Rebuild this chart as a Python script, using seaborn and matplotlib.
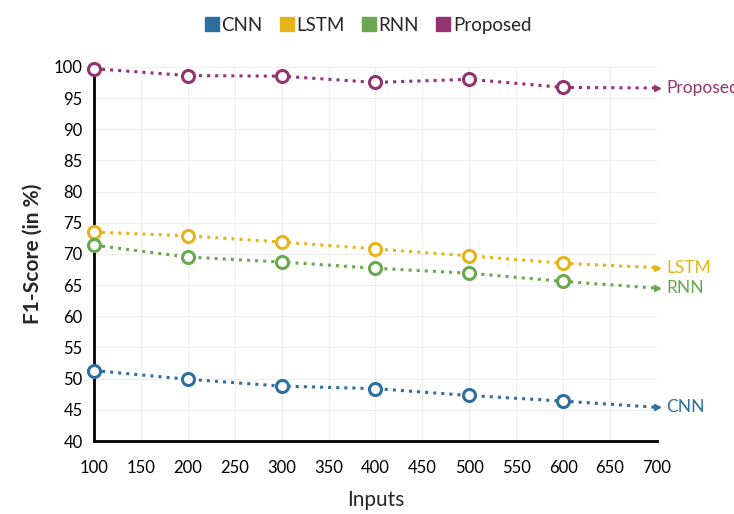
import matplotlib
matplotlib.use("Agg")
import matplotlib.pyplot as plt
from matplotlib.lines import Line2D
import pandas as pd
import seaborn as sns

# values
inputs = [100, 200, 300, 400, 500, 600, 700]
cnn = [51.3, 49.9, 48.8, 48.4, 47.3, 46.4, 45.4]
lstm = [73.5, 72.9, 71.9, 70.8, 69.7, 68.5, 67.8]
rnn = [71.4, 69.5, 68.7, 67.7, 66.9, 65.6, 64.5]
proposed = [99.7, 98.6, 98.5, 97.5, 98.0, 96.7, 96.6]

series_names = ["CNN", "LSTM", "RNN", "Proposed"]
series_values = [cnn, lstm, rnn, proposed]
colors = ["#2f6f9f", "#e8b31a", "#6aa84f", "#93336f"]

sns.set_style("white")
plt.rcParams['font.family'] = ['Lato', 'DejaVu Sans']

fig = plt.figure(figsize=(7.34, 5.14), dpi=100)
ax = fig.add_axes([0.128, 0.142, 0.767, 0.728])

for name, vals, col in zip(series_names, series_values, colors):
    df = pd.DataFrame({'x': inputs, 'y': vals})
    sns.lineplot(data=df, x='x', y='y', ax=ax, color=col, linestyle=':',
                 linewidth=2.2, clip_on=False)
    sns.scatterplot(data=df.iloc[:-1], x='x', y='y', ax=ax, s=75,
                    facecolor='white', edgecolor=col, linewidth=2.2,
                    zorder=5, clip_on=False)
    ax.plot(df['x'].iloc[-1], df['y'].iloc[-1], marker='>', color=col,
            markersize=4, clip_on=False)
    # label at line end (the reference cuts "Proposed" at the right edge)
    ax.text(df['x'].iloc[-1] + 10, df['y'].iloc[-1], name, color=col,
            fontsize=12.5, va='center', ha='left', clip_on=False)

ax.set_xlim(100, 700)
ax.set_ylim(40, 100)
ax.set_xticks(range(100, 701, 50))
ax.set_yticks(range(40, 101, 5))
ax.tick_params(axis='both', direction='in', length=5, width=1.5,
               labelsize=12, colors='black')
ax.tick_params(axis='x', pad=14)
ax.tick_params(axis='y', length=2, pad=8)
ax.grid(True, color='#eeeeee', linewidth=0.8)
for side in ['top', 'right']:
    ax.spines[side].set_visible(False)
for side in ['left', 'bottom']:
    ax.spines[side].set_color('black')
    ax.spines[side].set_linewidth(2)

ax.set_xlabel('Inputs', fontsize=15, labelpad=10)
ax.set_ylabel('F1-Score (in %)', fontsize=15, fontweight='bold', labelpad=8)

handles = [Line2D([], [], marker='s', linestyle='', color=c, markersize=10)
           for c in colors]
fig.legend(handles, series_names, loc='upper center', ncol=4, frameon=False,
           fontsize=13.5, handletextpad=0.0, handlelength=1.0, columnspacing=0.8,
           bbox_to_anchor=(0.5, 1.0))

fig.savefig('out.png', dpi=100)
